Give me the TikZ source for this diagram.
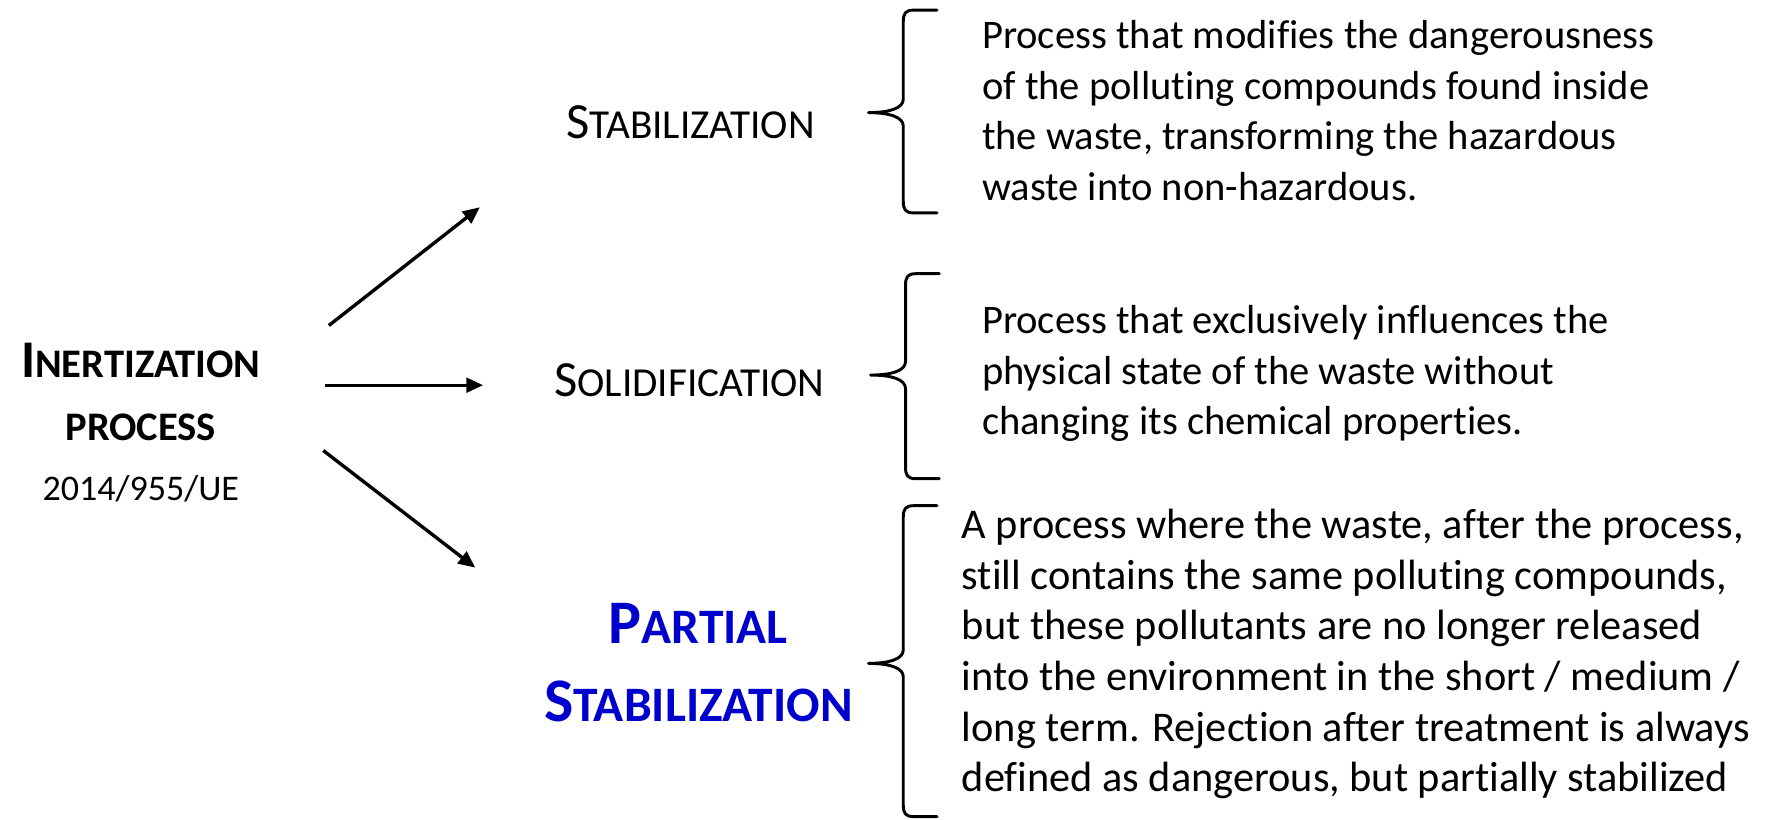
\documentclass[tikz,border=0pt]{standalone}
\usepackage{fontspec}
\setmainfont{Carlito}[Ligatures={NoCommon,NoContextual}]
\usetikzlibrary{arrows.meta}
\definecolor{partblue}{RGB}{0,0,204}
\newcommand\mixcaps[4]{{\fontsize{#1}{#1}\selectfont #3}{\fontsize{#2}{#2}\selectfont #4}}

\begin{document}
\begin{tikzpicture}[x=0.5pt,y=-0.5pt,
    every node/.style={inner sep=0pt,outer sep=0pt},
    headbox/.style={anchor=base},
    desc/.style={anchor=north west,align=left,font=\fontsize{18}{22.5}\selectfont},
    flow/.style={line width=1.5pt,-{Triangle[length=7.5pt,width=6.5pt]}},
    curly/.style={line width=1.3pt,line cap=round,line join=round}]
  \useasboundingbox (0,0) rectangle (1568,728);

  \node[headbox] (inert) at (125,335) {\bfseries\mixcaps{23.5}{18}{I}{NERTIZATION}};
  \node[headbox] (proc) at (125,391) {\bfseries\fontsize{18}{18}\selectfont PROCESS};
  \node[headbox,font=\fontsize{16}{16}\selectfont] (dir) at (125,444) {2014/955/UE};

  \node[headbox] (stab) at (613,123) {\mixcaps{22.5}{18.3}{S}{TABILIZATION}};
  \node[headbox] (solid) at (612,352) {\mixcaps{22.5}{18.3}{S}{OLIDIFICATION}};
  \node[headbox,text=partblue] (partial) at (620,571) {\bfseries\mixcaps{27.5}{22}{P}{ARTIAL}};
  \node[headbox,text=partblue] (pstab) at (620,641) {\bfseries\mixcaps{27.5}{22}{S}{TABILIZATION}};

  \coordinate (up0) at (292,289);
  \coordinate (up1) at (426,184);
  \coordinate (mid0) at (289,342);
  \coordinate (mid1) at (429,342);
  \coordinate (low0) at (287,400);
  \coordinate (low1) at (422,504);
  \draw[flow] (up0) -- (up1);
  \draw[flow] (mid0) -- (mid1);
  \draw[flow] (low0) -- (low1);

  \foreach \bx/\bt/\bm/\bb in {802/9/100/189, 804/243/333/425, 802/449/589/725}
    \draw[curly] ({\bx+30},\bt) -- ({\bx+9},\bt)
      .. controls ({\bx+2},\bt) and (\bx,{\bt+3}) .. (\bx,{\bt+10})
      -- (\bx,{\bm-12})
      .. controls (\bx,{\bm-4}) and ({\bx-12},\bm) .. ({\bx-31},\bm)
      .. controls ({\bx-12},\bm) and (\bx,{\bm+4}) .. (\bx,{\bm+12})
      -- (\bx,{\bb-10})
      .. controls (\bx,{\bb-3}) and ({\bx+2},\bb) .. ({\bx+9},\bb)
      -- ({\bx+30},\bb);

  \node[desc] (stabtext) at (872,13) {\rule{0pt}{15pt}Process that modifies the dangerousness\\
    of the polluting compounds found inside\\
    the waste, transforming the hazardous\\
    waste into non-hazardous.};
  \node[desc] (solidtext) at (872,266) {\rule{0pt}{15pt}Process that exclusively influences the\\
    physical state of the waste without\\
    changing its chemical properties.};
  \node[desc,font=\fontsize{18.8}{22.5}\selectfont] (pstabtext) at (854,448) {\rule{0pt}{15pt}A process where the waste, after the process,\\
    still contains the same polluting compounds,\\
    but these pollutants are no longer released\\
    into the environment in the short / medium /\\
    long term. Rejection after treatment is always\\
    defined as dangerous, but partially stabilized};
\end{tikzpicture}
\end{document}
